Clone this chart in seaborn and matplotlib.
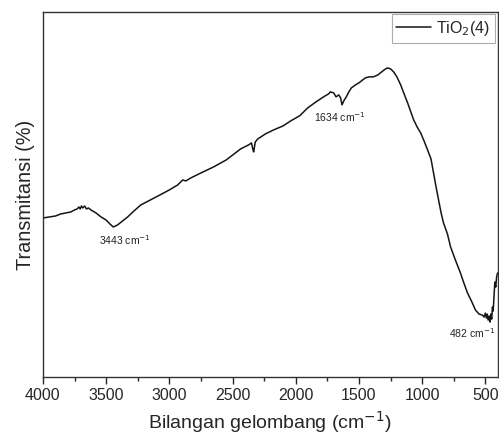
import pandas as pd
import seaborn as sns
import matplotlib.pyplot as plt
from matplotlib.ticker import MultipleLocator

# FTIR spectrum of TiO2(4) (transmittance in arbitrary %)
wavenumber = [4000, 3950, 3900, 3860, 3820, 3780, 3750, 3730, 3715, 3705, 3695, 3685,
              3670, 3655, 3640, 3620, 3580, 3540, 3500, 3470, 3443, 3410, 3370, 3330,
              3280, 3226, 3150, 3090, 3000, 2934, 2910, 2894, 2870, 2830, 2750, 2650,
              2550, 2436, 2373, 2350, 2340, 2333, 2320, 2300, 2240, 2175, 2100, 2040,
              1970, 1905, 1840, 1780, 1740, 1725, 1700, 1681, 1660, 1645, 1634, 1620,
              1600, 1580, 1560, 1527, 1500, 1470, 1448, 1420, 1385, 1350, 1320, 1300,
              1275, 1250, 1226, 1200, 1170, 1140, 1115, 1090, 1067, 1040, 1012, 985,
              957, 930, 910, 890, 870, 850, 831, 800, 775, 740, 697, 670, 641, 610,
              578, 550, 523, 510, 500, 492, 485, 478, 470, 463, 457, 450, 444, 438,
              432, 425, 418, 411, 404]
transmittance = [159, 160, 161, 163, 164, 165, 167, 168, 170, 168, 171, 169,
                 171, 168, 169, 167, 164, 160, 157, 153, 150, 152, 156, 160,
                 166, 172, 177, 181, 187, 192, 195, 197, 196, 199, 204, 210,
                 217, 228, 232, 234, 228, 225, 235, 238, 243, 247, 251, 256,
                 261, 269, 275, 280, 283, 285, 284, 280, 282, 279, 272, 276,
                 280, 285, 289, 292, 294, 297, 299, 300, 300, 302, 305, 307,
                 309, 308, 305, 300, 292, 282, 274, 265, 257, 250, 244, 236,
                 227, 218, 204, 190, 177, 164, 154, 143, 130, 118, 104, 94,
                 84, 76, 67, 63, 62, 60, 64, 59, 63, 57, 61, 55,
                 63, 58, 70, 66, 80, 95, 90, 100, 104]

label_text = 'TiO$_2$(4)'
peak_labels = ['3443 cm$^{-1}$', '1634 cm$^{-1}$', '482 cm$^{-1}$']
peak_x = [3348, 1650, 606]
peak_y = [137, 260, 44]

df = pd.DataFrame({'Wavenumber': wavenumber, 'Transmittance': transmittance})

sns.set_style('white')
plt.rcParams['font.family'] = ['Liberation Sans', 'DejaVu Sans']

fig = plt.figure(figsize=(4.99, 4.37), dpi=100)
ax = fig.add_axes([0.086, 0.137, 0.911, 0.836])

sns.lineplot(data=df, x='Wavenumber', y='Transmittance', ax=ax, color='#151515',
             linewidth=1.1, label=label_text, sort=False)

for txt, px, py in zip(peak_labels, peak_x, peak_y):
    ax.text(px, py, txt, fontsize=7.5, ha='center', va='center', color='#222222')

ax.set_xlim(4000, 404)
ax.set_ylim(0, 365)
ax.set_yticks([])
ax.xaxis.set_major_locator(MultipleLocator(500))
ax.xaxis.set_minor_locator(MultipleLocator(250))
ax.tick_params(axis='x', which='major', direction='out', length=5, width=1,
               labelsize=11.5, bottom=True, pad=3)
ax.tick_params(axis='x', which='minor', direction='out', length=3, width=1, bottom=True)
for sp in ax.spines.values():
    sp.set_visible(True)
    sp.set_color('#333333')
    sp.set_linewidth(1.0)

ax.set_xlabel('Bilangan gelombang (cm$^{-1}$)', fontsize=14, labelpad=4)
ax.set_ylabel('Transmitansi (%)', fontsize=14.3, labelpad=6)

leg = ax.legend(loc='upper right', fontsize=11.5, frameon=True, fancybox=False,
                handlelength=2.2, borderpad=0.3, borderaxespad=0.15, handletextpad=0.3)
leg.get_frame().set_edgecolor('#999999')
leg.get_frame().set_linewidth(0.8)

plt.savefig('out.png', dpi=100)
